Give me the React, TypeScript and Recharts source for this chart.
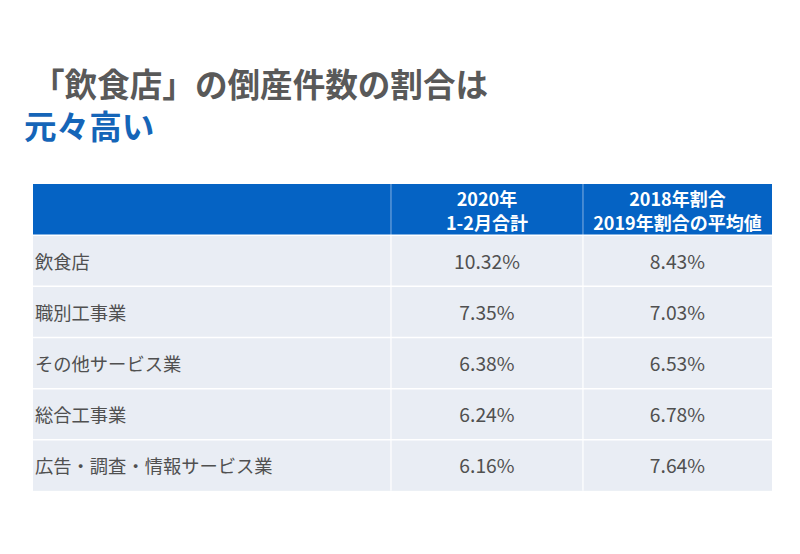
import React from "react";
import { BarChart, Bar, XAxis, YAxis } from "recharts";

const titleLine1 = "「飲食店」の倒産件数の割合は";
const titleLine2 = "元々高い";

const categories = [
  "飲食店",
  "職別工事業",
  "その他サービス業",
  "総合工事業",
  "広告・調査・情報サービス業",
];
const share2020 = [10.32, 7.35, 6.38, 6.24, 6.16];
const shareAvg = [8.43, 7.03, 6.53, 6.78, 7.64];
const headerCol1 = ["2020年", "1-2月合計"];
const headerCol2 = ["2018年割合", "2019年割合の平均値"];

const rows = [
  { name: "__header", header: true },
  ...categories.map((c, i) => ({ name: c, header: false, v1: share2020[i], v2: shareAvg[i] })),
];

const colFractions = [0.4844, 0.2598, 0.2558];
const FONT = "'Noto Sans CJK JP', 'Noto Sans', sans-serif";
const HEADER_BG = "#0563C4";
const BODY_BG = "#E9EDF4";
const TEXT = "#505050";

const RowShape = (props: any) => {
  const { x, y, width, height, index } = props;
  const row: any = rows[index];
  const w0 = width * colFractions[0];
  const w1 = width * colFractions[1];
  const xs = [x, x + w0, x + w0 + w1, x + width];
  const cy = y + height / 2;
  if (row.header) {
    const hdrs = [headerCol1, headerCol2];
    return (
      <g>
        <rect x={x} y={y} width={width} height={height} fill={HEADER_BG} />
        <line x1={xs[1]} x2={xs[1]} y1={y} y2={y + height} stroke="#6FA3DC" strokeWidth={1.2} />
        <line x1={xs[2]} x2={xs[2]} y1={y} y2={y + height} stroke="#6FA3DC" strokeWidth={1.2} />
        {hdrs.map((lines, k) => {
          const cx = (xs[k + 1] + xs[k + 2]) / 2;
          return (
            <g key={k}>
              <text
                x={cx}
                y={cy - 12}
                textAnchor="middle"
                dominantBaseline="central"
                fill="#FFFFFF"
                fontFamily={FONT}
                fontWeight={700}
                fontSize={18}
              >
                {lines[0]}
              </text>
              <text
                x={cx}
                y={cy + 12}
                textAnchor="middle"
                dominantBaseline="central"
                fill="#FFFFFF"
                fontFamily={FONT}
                fontWeight={700}
                fontSize={18}
              >
                {lines[1]}
              </text>
            </g>
          );
        })}
      </g>
    );
  }
  return (
    <g>
      <rect x={x} y={y} width={width} height={height} fill={BODY_BG} />
      <line x1={x} x2={x + width} y1={y} y2={y} stroke="#FFFFFF" strokeWidth={1.5} />
      <line x1={xs[1]} x2={xs[1]} y1={y} y2={y + height} stroke="#FFFFFF" strokeWidth={1.2} />
      <line x1={xs[2]} x2={xs[2]} y1={y} y2={y + height} stroke="#FFFFFF" strokeWidth={1.2} />
      <text x={x + 2} y={cy} dominantBaseline="central" fill={TEXT} fontFamily={FONT} fontSize={18.3}>
        {row.name}
      </text>
      <text
        x={(xs[1] + xs[2]) / 2}
        y={cy}
        dominantBaseline="central"
        textAnchor="middle"
        fill={TEXT}
        fontFamily={FONT}
        fontSize={19.3}
      >
        {row.v1.toFixed(2)}%
      </text>
      <text
        x={(xs[2] + xs[3]) / 2}
        y={cy}
        dominantBaseline="central"
        textAnchor="middle"
        fill={TEXT}
        fontFamily={FONT}
        fontSize={19.3}
      >
        {row.v2.toFixed(2)}%
      </text>
    </g>
  );
};

export default function App() {
  return (
    <div
      style={{
        position: "absolute",
        left: 0,
        top: 0,
        width: 800,
        height: 554,
        background: "#FFFFFF",
        overflow: "hidden",
      }}
    >
      <div
        style={{
          position: "absolute",
          left: 32,
          top: 67,
          fontFamily: FONT,
          fontWeight: 700,
          fontSize: 32.6,
          lineHeight: "32px",
          color: "#595959",
          whiteSpace: "nowrap",
        }}
      >
        {titleLine1}
      </div>
      <div
        style={{
          position: "absolute",
          left: 24,
          top: 109,
          fontFamily: FONT,
          fontWeight: 700,
          fontSize: 32.6,
          lineHeight: "32px",
          color: "#1565B8",
          whiteSpace: "nowrap",
        }}
      >
        {titleLine2}
      </div>
      <div style={{ position: "absolute", left: 0, top: 0 }}>
        <BarChart
          width={800}
          height={554}
          data={rows}
          layout="vertical"
          margin={{ top: 184, bottom: 63, left: 33, right: 28 }}
          barCategoryGap={0}
          barGap={0}
        >
          <XAxis type="number" hide domain={[0, 1]} />
          <YAxis type="category" dataKey="name" hide width={0} />
          <Bar dataKey={() => 1} isAnimationActive={false} shape={RowShape} />
        </BarChart>
      </div>
    </div>
  );
}
